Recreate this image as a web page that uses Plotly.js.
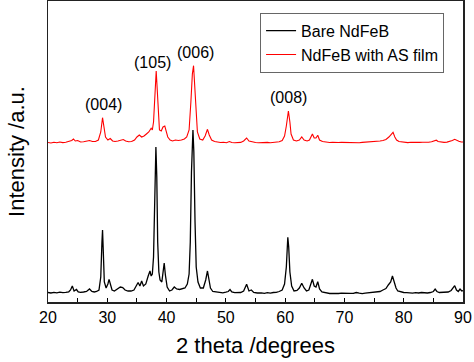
<!DOCTYPE html>
<html>
<head>
<meta charset="utf-8">
<script src="https://cdn.plot.ly/plotly-3.0.1.min.js"></script>
<style>html,body{margin:0;padding:0;background:#fff;}#chart{width:474px;height:362px;}</style>
</head>
<body>
<div id="chart"></div>
<script>
// 2 theta (degrees) and intensity (arbitrary units, offset for display)
const bareTheta = [20.0,20.5,21.0,21.5,22.0,22.5,23.0,23.5,23.8,24.1,24.4,24.8,25.1,25.5,26.0,26.5,27.0,27.4,27.8,28.2,28.6,28.9,29.1,29.2,29.3,29.5,29.8,30.1,30.3,30.5,30.8,31.2,31.7,32.2,32.6,33.0,33.5,34.0,34.5,34.9,35.2,35.5,35.8,36.1,36.5,36.9,37.2,37.4,37.6,37.8,38.0,38.2,38.35,38.5,38.7,38.9,39.2,39.45,39.6,39.8,40.1,40.5,40.9,41.3,41.7,42.2,42.7,43.1,43.5,43.8,44.0,44.2,44.45,44.6,44.8,45.0,45.3,45.7,46.2,46.6,46.9,47.1,47.4,47.8,48.3,49.0,49.5,50.0,50.4,50.7,51.0,51.5,52.0,52.5,53.0,53.5,53.9,54.3,54.7,55.3,56.0,56.5,57.0,57.5,58.0,58.5,59.0,59.5,59.9,60.2,60.45,60.6,60.8,61.1,61.5,62.0,62.4,62.8,63.2,63.6,64.0,64.3,64.6,64.9,65.2,65.5,65.8,66.2,66.8,67.5,68.0,68.5,69.0,69.5,70.0,70.5,71.0,71.5,72.0,72.5,73.0,73.5,74.0,74.5,75.0,75.5,76.0,76.5,77.0,77.4,77.8,78.1,78.4,78.7,79.0,79.5,80.0,80.5,81.0,81.5,82.0,82.5,83.0,83.5,84.0,84.5,85.0,85.3,85.6,86.0,86.5,87.0,87.5,88.0,88.3,88.6,88.9,89.2,89.5,89.8,90.0];
const bareIntensity = [9.5,9.0,9.6,9.2,9.8,9.3,9.6,10.2,12,16,11,12.5,10,9.6,10,10.5,13,10.5,10,10.5,12,25,60,72,55,20,14,18,22.7,17,12,11,13,15,14.5,12,11,11,12,17,19.5,16,21,16,18,26,31,26,28,45,110,155,125,60,30,22,20,32,39,27,15,11,12,15,13,12.5,13,14,18,28,60,130,172,150,80,35,20,14,14,22,31,24,14,10.5,10,9.6,9.2,9.8,10.5,12.5,10,9.3,9.6,9.5,11,17.7,11,12,9.6,9,9.2,8.7,9.3,8.8,9.5,9.6,10.5,12,18,35,64.7,55,30,16,11,11.5,14,18.7,14,11,12,18,22.7,16,15,20.3,13,10,9,8.5,8.6,8.2,8.5,8.8,8.5,8.3,8.6,8.7,9.5,8.8,8.4,8.8,9.2,9.0,9.3,9.8,10.5,12,13.5,17,20,26,20,14,11,10,9.5,9.3,9.0,8.8,9.3,9.0,9.5,9.2,9.0,9.5,10.5,13,10.5,9.5,9.6,9.4,10,11.5,14,16.3,12,10.5,13,11,11.5];

const filmTheta = [20.0,20.5,21.0,21.5,22.0,22.5,23.0,23.5,24.0,24.3,24.6,25.0,25.5,26.0,26.5,27.0,27.5,28.0,28.5,28.9,29.2,29.4,29.7,30.1,30.5,30.9,31.3,31.8,32.3,32.7,33.1,33.6,34.1,34.6,35.0,35.4,35.8,36.2,36.6,37.0,37.4,37.6,37.8,38.0,38.25,38.4,38.6,38.8,39.1,39.4,39.7,39.9,40.2,40.6,41.0,41.5,42.0,42.5,43.0,43.4,43.8,44.1,44.35,44.55,44.75,44.95,45.2,45.6,46.1,46.5,46.9,47.2,47.6,48.1,48.6,49.1,49.6,50.1,50.6,51.0,51.5,52.0,52.5,53.0,53.5,53.9,54.4,55.0,55.5,56.0,56.5,57.0,57.5,58.0,58.5,59.0,59.5,59.9,60.2,60.55,60.8,61.0,61.4,61.9,62.4,62.8,63.2,63.7,64.1,64.4,64.6,64.9,65.2,65.5,65.8,66.3,67.0,67.5,68.0,68.5,69.0,69.5,70.0,70.5,71.0,71.5,72.0,72.5,73.0,73.5,74.0,74.5,75.0,75.5,76.0,76.5,77.0,77.5,77.9,78.2,78.5,78.8,79.2,79.7,80.2,80.7,81.2,81.7,82.2,82.7,83.2,83.7,84.2,84.7,85.2,85.5,85.8,86.3,86.8,87.3,87.8,88.2,88.6,88.9,89.3,89.7,90.0];
const filmIntensity = [159.5,159,159.7,159.2,160,159.4,159.8,160.4,161.5,163,161,161.5,160,160.3,160.8,161.5,160.5,160.5,162,170,184.3,178,165,162,163.5,161,160.5,161,162,162.5,161,160.3,160.5,162,165,167,165,166,168,170,173.7,172,180,205,231,215,185,172,171,175,176,171,165,162,161,162,161.5,162,163,165,172,200,228,236.3,215,185,170,163,162,166,172.7,167,162,160.5,160,159.5,159.8,159.3,160.5,159.5,159.2,159.4,159.6,161,164,161,160,159.5,159.2,159.5,159.3,159.6,159.2,159.4,159.8,160.2,161.5,166,176,191,180,168,162,161,162,165,162,161,162,166,168,164,164,166.7,162,160.5,159.8,159.5,159.7,159.3,159.5,159.6,159.5,159.2,159.4,159.7,159.5,159.3,159.6,159.8,159.5,160,160.2,160.5,161,161.5,162.5,165,168,169.7,165,162,160.5,160,159.6,159.4,159.7,159.5,159.3,159.6,159.8,159.5,159.7,160.2,161,161.8,160.5,159.8,159.6,159.9,160.5,161.5,162.7,161.5,160.8,160,160];

const seriesNames = ["Bare NdFeB", "NdFeB with AS film"];
const peakLabels = ["(004)", "(105)", "(006)", "(008)"];
const peakLabelTheta = [29.3, 37.7, 44.8, 60.6];
const peakLabelY = [198, 240, 250, 205];
const xTicks = [20, 30, 40, 50, 60, 70, 80, 90];

const FONT = "Liberation Sans, Arial, sans-serif";

const traces = [
  {x: bareTheta, y: bareIntensity, type: "scatter", mode: "lines", name: seriesNames[0],
   line: {color: "#000000", width: 1.3}},
  {x: filmTheta, y: filmIntensity, type: "scatter", mode: "lines", name: seriesNames[1],
   line: {color: "#ff0000", width: 1.1}}
];

const annotations = peakLabels.map((t, i) => ({
  x: peakLabelTheta[i], y: peakLabelY[i], xref: "x", yref: "y", text: t,
  showarrow: false, font: {family: FONT, size: 16, color: "#000"}
}));

const layout = {
  width: 474, height: 362,
  margin: {l: 48, r: 11, t: 1, b: 60},
  paper_bgcolor: "#fff", plot_bgcolor: "#fff",
  showlegend: true,
  legend: {x: 0.511, y: 0.961, xanchor: "left", yanchor: "top",
    bgcolor: "#fff", bordercolor: "#666", borderwidth: 1,
    font: {family: FONT, size: 16, color: "#000"}, tracegroupgap: 0, itemwidth: 30},
  xaxis: {range: [20, 90], tickvals: xTicks, ticktext: xTicks.map(String),
    ticks: "inside", ticklen: 4, tickwidth: 1, tickcolor: "#000",
    minor: {dtick: 5, ticks: "inside", ticklen: 4, tickwidth: 1, tickcolor: "#000"},
    showgrid: false, zeroline: false, showline: true, mirror: true,
    linecolor: "#222", linewidth: 1.5,
    tickfont: {family: FONT, size: 16, color: "#000"},
    title: {text: "2 theta /degrees", font: {family: FONT, size: 22, color: "#000"}, standoff: 13}},
  yaxis: {range: [0, 301], showticklabels: false, ticks: "",
    showgrid: false, zeroline: false, showline: true, mirror: true,
    linecolor: "#222", linewidth: 1.5,
    title: {text: "Intensity /a.u.", font: {family: FONT, size: 22, color: "#000"}, standoff: 16}},
  annotations: annotations
};

Plotly.newPlot("chart", traces, layout, {displayModeBar: false, staticPlot: true});
</script>
</body>
</html>
